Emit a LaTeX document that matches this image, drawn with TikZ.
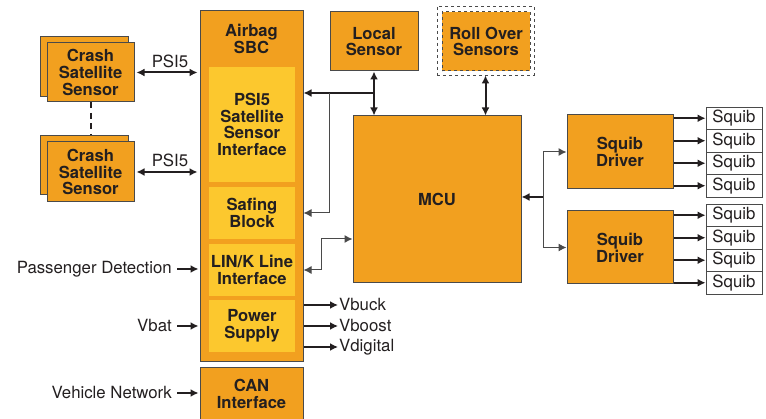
\documentclass[tikz,border=0pt]{standalone}
\usepackage{fontspec}
\setmainfont{TeX Gyre Heros}
\usetikzlibrary{arrows.meta}
\definecolor{orng}{HTML}{F2A01F}
\definecolor{yell}{HTML}{FCC82E}
\definecolor{ink}{HTML}{231F20}
\definecolor{edge}{HTML}{4A4A4A}
\begin{document}
\begin{tikzpicture}[x=1pt,y=-1pt,
  font=\fontsize{16.8}{16.8}\selectfont, text=ink,
  obox/.style={draw=edge, line width=1pt, fill=orng, inner sep=0pt, align=center, font=\fontsize{16.6}{16.8}\selectfont\bfseries},
  ybox/.style={fill=yell, inner sep=0pt, align=center, font=\fontsize{16.6}{16.8}\selectfont\bfseries},
  sqbox/.style={draw=edge, line width=0.9pt, fill=white, inner sep=0pt, minimum width=56, minimum height=22.5},
  lbl/.style={inner sep=1pt, align=center},
  arr/.style={draw=ink, line width=2pt, -{Latex[length=8pt,width=8pt]}},
  dbl/.style={draw=ink, line width=2pt, {Latex[length=8pt,width=8pt]}-{Latex[length=8pt,width=8pt]}},
  tarr/.style={draw=edge, line width=1pt, -{Latex[length=8pt,width=8pt]}},
  tdbl/.style={draw=edge, line width=1pt, {Latex[length=8pt,width=8pt]}-{Latex[length=8pt,width=8pt]}},
]
\useasboundingbox (0,0) rectangle (766,419);

% Airbag SBC
\node[obox, minimum width=103, minimum height=351] (sbc) at (251.5,186.5) {};
\node[lbl, font=\fontsize{16.6}{16.8}\selectfont\bfseries] (sbct) at (251.5,39) {Airbag\\SBC};
\node[ybox, minimum width=86, minimum height=115] (psi) at (252,124.5) {PSI5\\Satellite\\Sensor\\Interface};
\node[ybox, minimum width=86, minimum height=52] (saf) at (252,213) {Safing\\Block};
\node[ybox, minimum width=86, minimum height=52] (lin) at (252,270) {LIN/K Line\\Interface};
\node[ybox, minimum width=86, minimum height=52] (pwr) at (252,326) {Power\\Supply};
\node[obox, minimum width=103, minimum height=52] (can) at (251.5,394) {CAN\\Interface};

% Crash satellite sensors
\node[obox, minimum width=88, minimum height=60] (cs1b) at (84,67) {};
\node[obox, minimum width=87, minimum height=59] (cs1f) at (90.5,72.5) {Crash\\Satellite\\Sensor};
\node[obox, minimum width=88, minimum height=59] (cs2b) at (84,165.5) {};
\node[obox, minimum width=87, minimum height=60] (cs2f) at (90.5,172) {Crash\\Satellite\\Sensor};
\draw[ink, line width=2pt, dash pattern=on 6pt off 4.5pt] (cs1f.south) -- (cs1f.south |- cs2b.north);

\draw[dbl, shorten <=2pt, shorten >=2pt] (cs1f.east) -- (cs1f.east -| sbc.west);
\node[lbl] (psil1) at (170,61) {PSI5};
\draw[dbl, shorten <=2pt, shorten >=2pt] (cs2f.east) -- (cs2f.east -| sbc.west);
\node[lbl] (psil2) at (170,160) {PSI5};

% left inputs
\node[lbl, anchor=east] (pd) at (173,269) {Passenger Detection};
\draw[arr, shorten <=4pt, shorten >=1pt] (pd.east) -- (pd.east -| sbc.west);
\node[lbl, anchor=east] (vbat) at (173,326) {Vbat};
\draw[arr, shorten <=4pt, shorten >=1pt] (vbat.east) -- (vbat.east -| sbc.west);
\node[lbl, anchor=east] (vnet) at (173,393) {Vehicle Network};
\draw[arr, shorten <=4pt, shorten >=1pt] (vnet.east) -- (vnet.east -| can.west);

% outputs
\node[lbl, anchor=west] (vbuck) at (338,305) {Vbuck};
\node[lbl, anchor=west] (vboost) at (338,326) {Vboost};
\node[lbl, anchor=west] (vdig) at (338,347) {Vdigital};
\draw[arr] (vbuck.west -| sbc.east) -- (vbuck.west);
\draw[arr] (vboost.west -| sbc.east) -- (vboost.west);
\draw[arr] (vdig.west -| sbc.east) -- (vdig.west);

% Local sensor, roll over, MCU
\node[obox, minimum width=88, minimum height=59] (loc) at (374,41.5) {Local\\Sensor};
\node[draw=edge, line width=0.9pt, dashed, fill=white, minimum width=97, minimum height=69, inner sep=0pt] (rollout) at (485.5,40.5) {};
\node[obox, dashed, minimum width=88, minimum height=59] (roll) at (486,41.5) {Roll Over\\Sensors};
\node[obox, minimum width=168, minimum height=167] (mcu) at (437,199.5) {MCU};

\draw[dbl] (loc.south) -- (loc.south |- mcu.north);
\draw[dbl] (rollout.south) -- (rollout.south |- mcu.north);
\coordinate (j1) at (374,93);
\coordinate (j2) at (329,93);
\draw[arr] (j1) -- (j1 -| sbc.east);
\draw[tarr] (j2) |- (saf.east -| sbc.east);
\coordinate (lk) at (321,239);
\draw[tdbl] (lin.east -| sbc.east) -| (lk) -- (lk -| mcu.west);

% Squib drivers
\node[obox, minimum width=106, minimum height=74] (sd1) at (620,152) {Squib\\Driver};
\node[obox, minimum width=106, minimum height=73] (sd2) at (620,247.5) {Squib\\Driver};
\coordinate (fk) at (543,197);
\draw[arr] (fk) -- (fk -| mcu.east);
\draw[tarr] (fk) |- (sd1.west);
\draw[tarr] (fk) |- (sd2.west);

% Squibs
\foreach \i/\y in {1/118.25,2/140.75,3/163.25,4/185.75}{
  \node[sqbox] (sqa\i) at (734,\y) {Squib};
  \draw[arr] (sqa\i.west -| sd1.east) -- (sqa\i.west);
}
\foreach \i/\y in {1/215.25,2/237.75,3/260.25,4/282.75}{
  \node[sqbox] (sqb\i) at (734,\y) {Squib};
  \draw[arr] (sqb\i.west -| sd2.east) -- (sqb\i.west);
}
\end{tikzpicture}
\end{document}
